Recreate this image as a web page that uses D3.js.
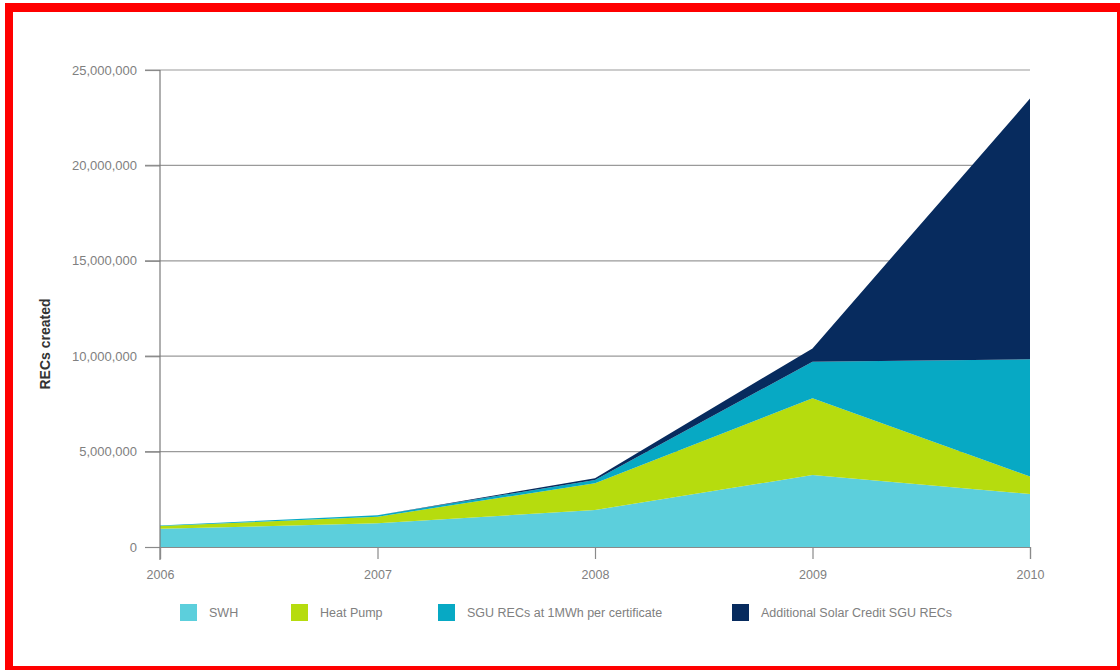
<!DOCTYPE html>
<html>
<head>
<meta charset="utf-8">
<script src="https://cdn.jsdelivr.net/npm/d3@7/dist/d3.min.js"></script>
<style>
  html, body { margin: 0; padding: 0; background: #fff; }
  svg { display: block; }
  text { font-family: "Liberation Sans", Arial, sans-serif; }
</style>
</head>
<body>
<svg id="chart" width="1120" height="670"></svg>
<script>
// Years on the x axis
const years = [2006, 2007, 2008, 2009, 2010];

// RECs created per year, by source
const swh        = [950000, 1240000, 1940000, 3770000, 2780000];
const heatPump   = [150000, 350000, 1400000, 4020000, 910000];
const sguRecs    = [30000, 70000, 170000, 1920000, 6150000];
const solarCredit = [0, 0, 90000, 700000, 13660000];

const seriesNames = ["SWH", "Heat Pump", "SGU RECs at 1MWh per certificate", "Additional Solar Credit SGU RECs"];
const seriesKeys = ["swh", "heatPump", "sguRecs", "solarCredit"];
const seriesColors = ["#5ccfdc", "#b6dc0e", "#07a9c4", "#072b5e"];

const yTicks = [0, 5000000, 10000000, 15000000, 20000000, 25000000];

const rows = years.map((yr, i) => ({
  year: yr,
  swh: swh[i],
  heatPump: heatPump[i],
  sguRecs: sguRecs[i],
  solarCredit: solarCredit[i]
}));

const svg = d3.select("#chart");

// Red outer frame
svg.append("rect").attr("x", 5).attr("y", 3).attr("width", 8).attr("height", 667).attr("fill", "#ff0000");
svg.append("rect").attr("x", 5).attr("y", 3).attr("width", 1115).attr("height", 9).attr("fill", "#ff0000");
svg.append("rect").attr("x", 1117).attr("y", 3).attr("width", 3).attr("height", 667).attr("fill", "#ff0000");
svg.append("rect").attr("x", 5).attr("y", 666).attr("width", 1115).attr("height", 4).attr("fill", "#ff0000");

const plotLeft = 160, plotRight = 1030, plotTop = 70, plotBottom = 547;

const x = d3.scaleLinear().domain([2006, 2010]).range([plotLeft, plotRight]);
const y = d3.scaleLinear().domain([0, 25000000]).range([plotBottom, plotTop]);

// Gridlines, each running into its tick left of the axis
svg.append("g")
  .selectAll("line")
  .data(yTicks.filter(t => t > 0))
  .join("line")
  .attr("x1", plotLeft - 15).attr("x2", plotRight)
  .attr("y1", d => y(d)).attr("y2", d => y(d))
  .attr("stroke", "#9a9a9a").attr("stroke-width", 1.2);

// Stacked areas
const layers = d3.stack().keys(seriesKeys)(rows);
const area = d3.area()
  .x(d => x(d.data.year))
  .y0(d => y(d[0]))
  .y1(d => y(d[1]));

svg.append("g")
  .selectAll("path")
  .data(layers)
  .join("path")
  .attr("d", area)
  .attr("fill", (d, i) => seriesColors[i]);

// Y axis
const yAxis = d3.axisLeft(y)
  .tickValues(yTicks)
  .tickFormat(d3.format(","))
  .tickSize(15)
  .tickPadding(8);
const yg = svg.append("g").attr("transform", `translate(${plotLeft},0)`).call(yAxis);
yg.select(".domain").remove();
yg.selectAll(".tick line").attr("stroke", "#8a8a8a").attr("stroke-width", 1.2);
yg.selectAll(".tick text").attr("fill", "#808080").attr("font-size", 13);

// Vertical axis line
svg.append("line")
  .attr("x1", plotLeft).attr("x2", plotLeft)
  .attr("y1", plotTop).attr("y2", plotBottom + 13)
  .attr("stroke", "#7a7a7a").attr("stroke-width", 1.2);

// X axis
const xAxis = d3.axisBottom(x)
  .tickValues(years)
  .tickFormat(d3.format("d"))
  .tickSize(12)
  .tickPadding(11);
const xg = svg.append("g").attr("transform", `translate(0,${plotBottom})`).call(xAxis);
xg.select(".domain").attr("stroke", "#8a8a8a").attr("stroke-width", 1.2);
xg.selectAll(".tick line").attr("stroke", "#8a8a8a").attr("stroke-width", 1.2);
xg.selectAll(".tick text").attr("fill", "#808080").attr("font-size", 12.5);

// Y axis title
svg.append("text")
  .attr("transform", `translate(50,344) rotate(-90)`)
  .attr("text-anchor", "middle")
  .attr("font-size", 14)
  .attr("font-weight", "bold")
  .attr("fill", "#333")
  .text("RECs created");

// Legend
const legendX = [180, 291, 438, 732];
const items = svg.append("g").attr("transform", "translate(0,604)")
  .selectAll("g")
  .data(seriesNames)
  .join("g")
  .attr("transform", (d, i) => `translate(${legendX[i]},0)`);
items.append("rect")
  .attr("width", 17).attr("height", 17)
  .attr("fill", (d, i) => seriesColors[i]);
items.append("text")
  .attr("x", 29).attr("y", 13)
  .attr("font-size", 12.5)
  .attr("fill", "#808080")
  .text(d => d);
</script>
</body>
</html>
